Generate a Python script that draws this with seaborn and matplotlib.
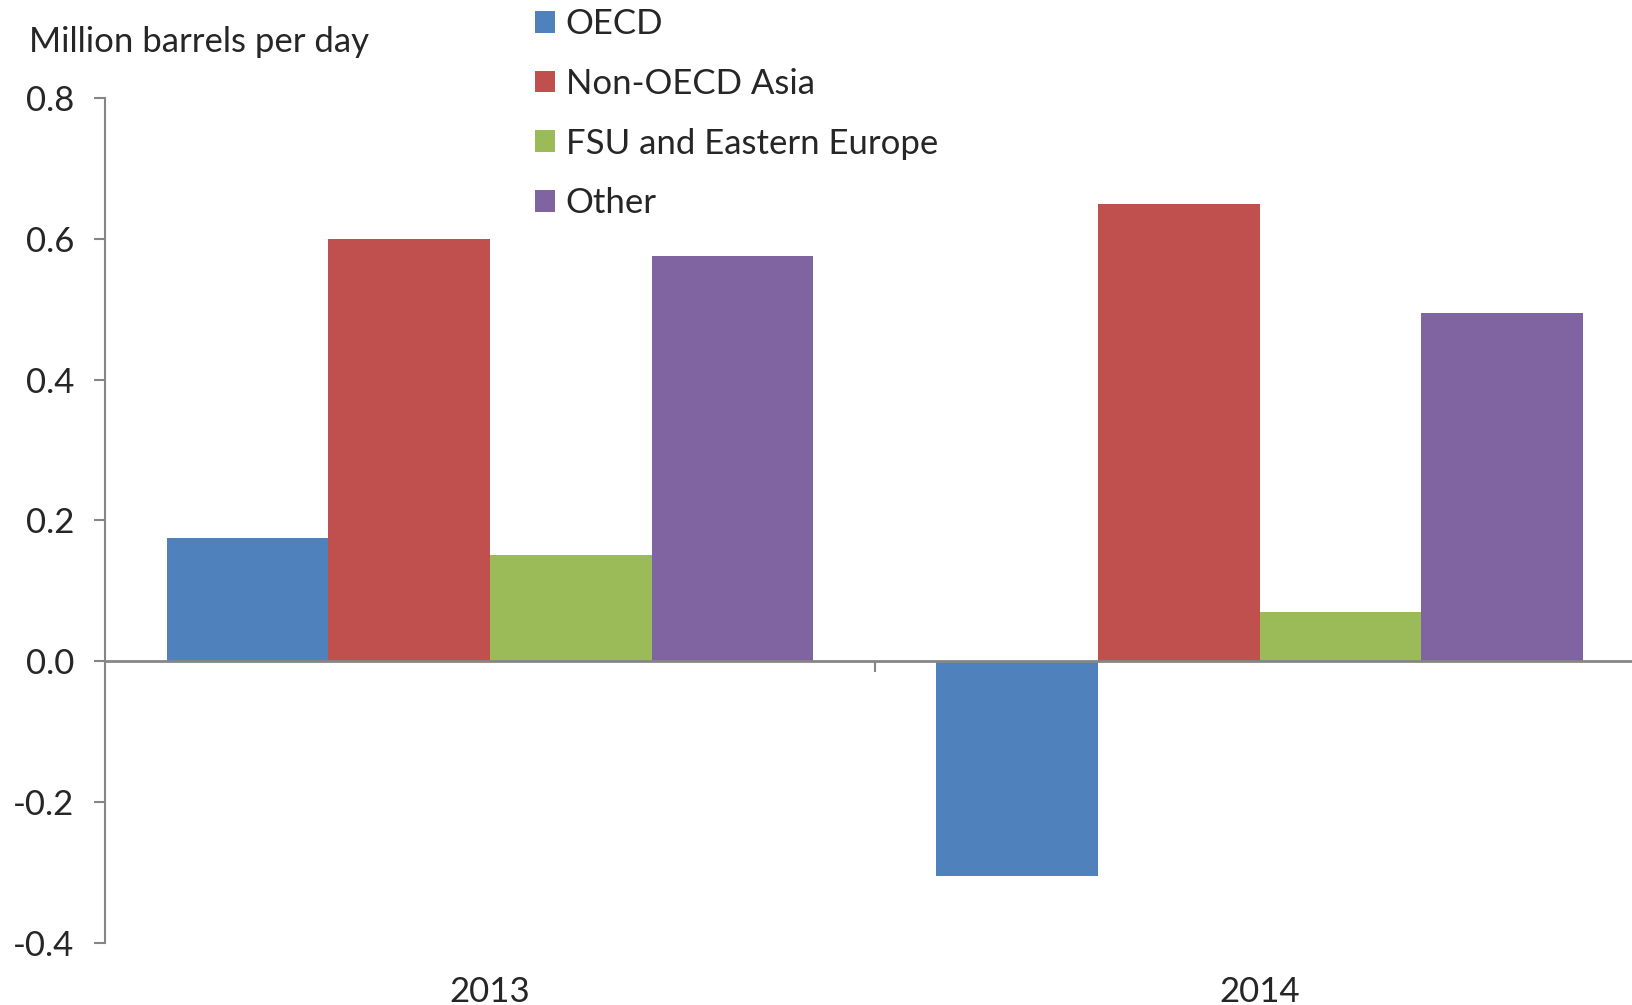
import matplotlib
matplotlib.use("Agg")
import matplotlib.pyplot as plt
import seaborn as sns
import pandas as pd

years = ["2013", "2014"]
regions = ["OECD", "Non-OECD Asia", "FSU and Eastern Europe", "Other"]
oecd = [0.175, -0.305]
non_oecd_asia = [0.60, 0.65]
fsu = [0.15, 0.07]
other = [0.575, 0.495]
colors = ["#4F81BD", "#C0504D", "#9BBB59", "#8064A2"]
y_ticks = [-0.4, -0.2, 0.0, 0.2, 0.4, 0.6, 0.8]

rows = []
for series, vals in zip(regions, [oecd, non_oecd_asia, fsu, other]):
    for yr, v in zip(years, vals):
        rows.append({"year": yr, "region": series, "value": v})
df = pd.DataFrame(rows)

sns.set_style("white")
plt.rcParams["font.family"] = ["Lato", "DejaVu Sans"]
FS = 25

W, H = 1633, 1005
fig = plt.figure(figsize=(W / 100, H / 100), dpi=100)
ax = fig.add_axes([105 / W, (H - 942.5) / H, (W - 105) / W, (942.5 - 98) / H])

sns.barplot(data=df, x="year", y="value", hue="region", order=years,
            hue_order=regions, palette=colors, width=0.84, gap=0,
            saturation=1, linewidth=0, ax=ax)

ax.set_xlim(-0.5, 1.485)
ax.set_ylim(-0.4, 0.8)
ax.set_yticks(y_ticks)
ax.set_yticklabels([f"{t:.1f}" for t in y_ticks], fontsize=FS)
ax.set_xlabel("")
ax.set_ylabel("")

gray = "#868686"
for s in ["top", "right"]:
    ax.spines[s].set_visible(False)
ax.spines["left"].set_color(gray)
ax.spines["left"].set_linewidth(1.5)
ax.spines["bottom"].set_position(("data", 0))
ax.spines["bottom"].set_color(gray)
ax.spines["bottom"].set_linewidth(2)
ax.tick_params(axis="y", length=8, width=1.5, color=gray, pad=14, left=True)
ax.set_xticks([0.5])
ax.set_xticklabels([""])
ax.tick_params(axis="x", length=8, width=1.5, color=gray, bottom=True)

sec = ax.secondary_xaxis("bottom")
sec.set_xticks([0, 1])
sec.set_xticklabels(years, fontsize=FS)
sec.tick_params(length=0, pad=24)
sec.spines["bottom"].set_visible(False)

fig.text(29 / W, 1 - 42 / H, "Million barrels per day", fontsize=FS,
         ha="left", va="center")

handles, labels = ax.get_legend_handles_labels()
if ax.get_legend() is not None:
    ax.get_legend().remove()
fig.legend(handles, labels, loc="upper left", bbox_to_anchor=(535 / W, 1 - 8 / H),
           frameon=False, fontsize=FS, handlelength=0.58, handleheight=0.58,
           handletextpad=0.3, labelspacing=0.8, borderpad=0.0, borderaxespad=0)

fig.savefig("out.png", dpi=100, facecolor="white")
